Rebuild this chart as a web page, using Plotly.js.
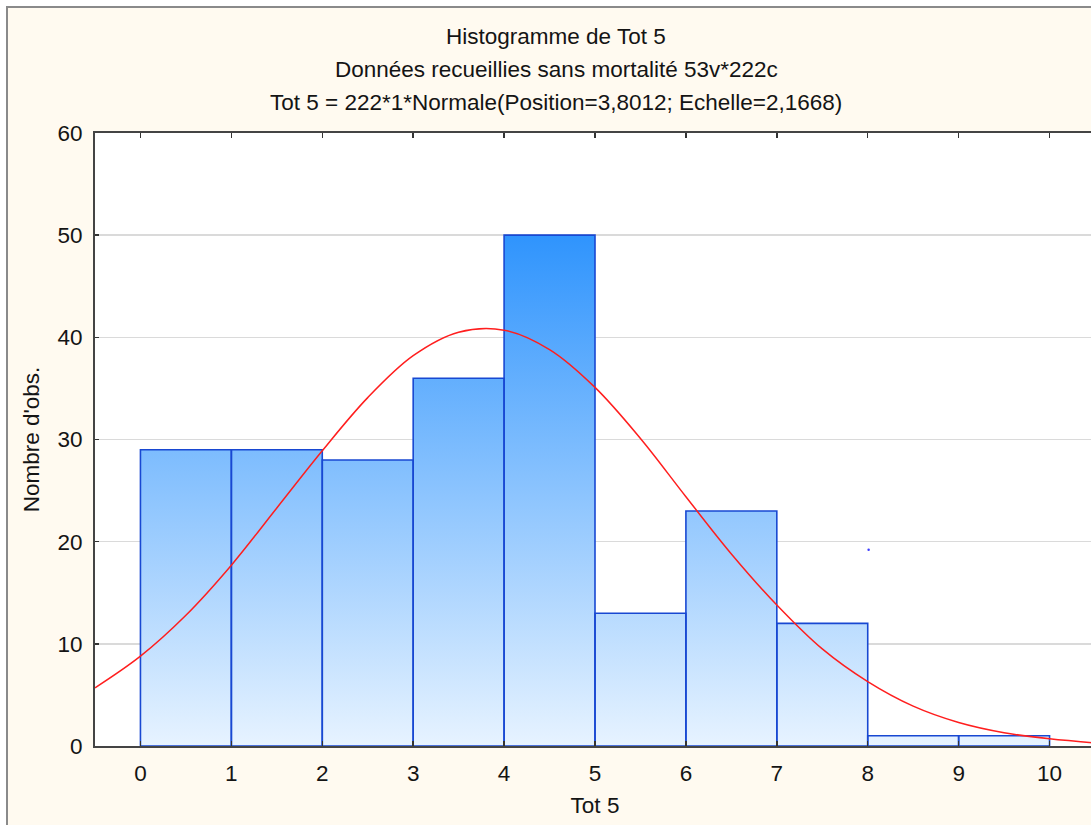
<!DOCTYPE html>
<html>
<head>
<meta charset="utf-8">
<script src="https://cdn.plot.ly/plotly-3.0.1.min.js"></script>
<style>
  html, body { margin: 0; padding: 0; background: #ffffff; overflow: hidden; width: 1091px; height: 825px; }
  #chart { position: absolute; left: 0; top: 0; }
  .strip { position: absolute; pointer-events: none; }
</style>
</head>
<body>
<div id="chart"></div>
<div class="strip" style="left:0;top:0;width:6px;height:825px;background:#fff;"></div>
<div class="strip" style="left:0;top:0;width:1100px;height:6px;background:#fff;"></div>
<div class="strip" style="left:6px;top:6px;width:2px;height:819px;background:#8a8a8a;"></div>
<div class="strip" style="left:6px;top:6px;width:1094px;height:2px;background:#8a8a8a;"></div>
<script>
// Histogram bins (edges) and counts
const binEdges = [0, 1, 2, 3, 4, 5, 6, 7, 8, 9, 10];
const counts   = [29, 29, 28, 36, 50, 13, 23, 12, 1, 1];

// Fitted normal curve
const curveX = [-0.5, 0, 0.5, 1, 1.5, 2, 2.5, 3, 3.5, 4, 4.5, 5, 5.5, 6, 6.5, 7, 7.5, 8, 8.5, 9, 9.5, 10, 10.5];
const curveY = [5.7, 8.8, 12.8, 17.7, 23.3, 28.9, 34.1, 38.2, 40.5, 40.7, 38.8, 35.1, 30.1, 24.4, 18.8, 13.8, 9.5, 6.3, 3.9, 2.3, 1.3, 0.7, 0.3];

// Stray point visible in the picture
const strayX = [8.01];
const strayY = [19.2];

const yTicks = [0, 10, 20, 30, 40, 50, 60];
const xTicks = [0, 1, 2, 3, 4, 5, 6, 7, 8, 9, 10];

const titleLines = [
  "Histogramme de Tot 5",
  "Données recueillies sans mortalité 53v*222c",
  "Tot 5 = 222*1*Normale(Position=3,8012; Echelle=2,1668)"
];

const stepY = counts.concat([counts[counts.length - 1]]);

// Outline of every bar (rectangles separated by gaps)
const outX = [], outY = [];
counts.forEach((c, i) => {
  const x0 = binEdges[i], x1 = binEdges[i + 1];
  outX.push(x0, x0, x1, x1, x0, null);
  outY.push(0, c, c, 0, 0, null);
});

const FONT = "Arial, 'Liberation Sans', sans-serif";
const TXT = "#141414";

const traces = [
  {
    type: "scatter", mode: "lines",
    x: binEdges, y: stepY,
    line: { shape: "hv", width: 0, color: "rgba(0,0,0,0)" },
    fill: "tozeroy",
    fillgradient: {
      type: "vertical",
      colorscale: [[0, "rgb(231,243,255)"], [1, "rgb(47,148,253)"]],
      start: 0, stop: 50
    },
    hoverinfo: "skip", showlegend: false
  },
  {
    type: "scatter", mode: "lines",
    x: outX, y: outY,
    line: { color: "rgb(24,72,210)", width: 1.6 },
    connectgaps: false,
    showlegend: false
  },
  {
    type: "scatter", mode: "lines",
    x: curveX, y: curveY,
    line: { shape: "spline", color: "rgb(255,30,30)", width: 1.5 },
    showlegend: false
  },
  {
    type: "scatter", mode: "markers",
    x: strayX, y: strayY,
    marker: { color: "rgb(60,60,255)", size: 2.5 },
    showlegend: false
  }
];

const annotations = titleLines.map((t, i) => ({
  text: t, xref: "paper", yref: "paper",
  x: (556 - 95) / 1000, y: (746 - (37 + i * 33)) / 613,
  xanchor: "center", yanchor: "middle", showarrow: false,
  font: { family: FONT, size: 22.5, color: TXT }
}));

const layout = {
  width: 1095, height: 825,
  margin: { l: 95, r: 0, t: 133, b: 79, pad: 0 },
  paper_bgcolor: "#fffaf0",
  plot_bgcolor: "#ffffff",
  font: { family: FONT, size: 22.5, color: TXT },
  xaxis: {
    range: [-0.5, 10.5],
    tickvals: xTicks, ticktext: xTicks.map(String),
    ticks: "inside", ticklen: 5, tickcolor: "#333", tickwidth: 1.5,
    showgrid: false, zeroline: false,
    showline: true, linecolor: "#444", linewidth: 2, mirror: "ticks",
    ticklabelstandoff: 6,
    tickfont: { family: FONT, size: 22.5, color: TXT },
    title: { text: "Tot 5", font: { family: FONT, size: 22.5, color: TXT }, standoff: 12 }
  },
  yaxis: {
    range: [0, 60],
    tickvals: yTicks, ticktext: yTicks.map(String),
    ticks: "inside", ticklen: 4, tickcolor: "#333", tickwidth: 1.5,
    showgrid: true, gridcolor: "#dadada", gridwidth: 1.5, zeroline: false,
    showline: true, linecolor: "#444", linewidth: 2, mirror: "ticks",
    ticklabelstandoff: 6,
    tickfont: { family: FONT, size: 22.5, color: TXT },
    title: { text: "Nombre d'obs.", font: { family: FONT, size: 22.5, color: TXT }, standoff: 12 }
  },
  annotations: annotations,
  showlegend: false
};

Plotly.newPlot("chart", traces, layout, { displayModeBar: false, staticPlot: true });
</script>
</body>
</html>
